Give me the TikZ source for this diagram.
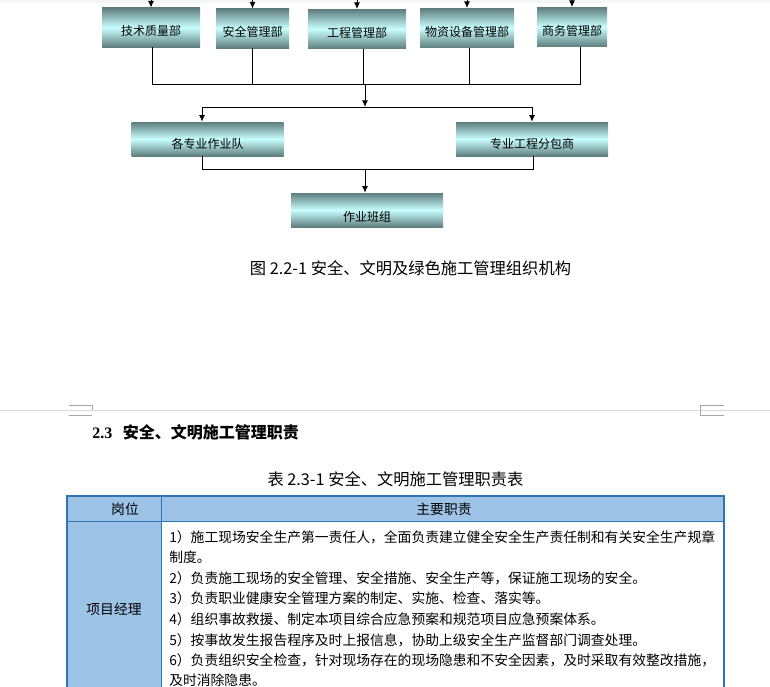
\documentclass[tikz,border=0pt]{standalone}
\usepackage{fontspec}
\setmainfont{Noto Sans CJK SC}
\newfontfamily\numfont{Liberation Serif}
\usetikzlibrary{arrows.meta}
\definecolor{boxdark}{RGB}{96,126,126}
\definecolor{boxlight}{RGB}{200,255,255}
\definecolor{tblue}{RGB}{46,117,182}
\definecolor{hdrblue}{RGB}{157,195,230}
\definecolor{pageline}{RGB}{217,217,217}
\definecolor{markgray}{RGB}{166,166,166}
\begin{document}
\begin{tikzpicture}[
  x=0.75pt, y=-0.75pt,
  box/.style={inner sep=0pt, top color=boxdark, bottom color=boxdark, middle color=boxlight,
    font=\fontsize{9}{9}\selectfont, text height=12pt, text depth=0pt, minimum height=29.5pt},
  unit/.style={box, minimum width=114pt, minimum height=25.5pt, text height=14.5pt},
  link/.style={line width=0.75pt},
  arr/.style={link, -{Latex[length=5pt,width=4.5pt]}},
  note/.style={font=\fontsize{12.2}{12}\selectfont},
  cell/.style={font=\fontsize{10.35}{11}\selectfont, inner sep=0pt}
]
\useasboundingbox (0,0) rectangle (770,686);
\clip (0,0) rectangle (770,686);
\fill[gray!7] (0,0) rectangle (770,3);

% departments
\node[box, minimum width=73.5pt] (tech) at (151,27.5) {技术质量部};
\node[box, minimum width=54.75pt] (safe) at (252.5,28.5) {安全管理部};
\node[box, minimum width=73.5pt] (eng)  at (357,29) {工程管理部};
\node[box, minimum width=70.5pt] (mat)  at (467,28) {物资设备管理部};
\node[box, minimum width=52.5pt] (biz)  at (572,27) {商务管理部};

\foreach \b in {tech,safe,eng,mat,biz}
  \draw[arr] (\b.north) ++(0,-20) -- (\b.north);

% teams
\node[unit] (team) at (207.5,139) {各专业作业队};
\node[unit] (sub)  at (532,139) {专业工程分包商};
\node[unit, text height=17pt] (crew) at (367,210) {作业班组};

\coordinate (busL) at (152,84);
\coordinate (busR) at (580,84);
\coordinate (busM) at (365,84);
\coordinate (barL) at (202,107);
\coordinate (barR) at (532,107);
\coordinate (barM) at (365,107);
\coordinate (lowL) at (202,169);
\coordinate (lowR) at (533,169);
\coordinate (lowM) at (365,169);

\draw[link] (tech.south -| busL) -- (busL) -- (busR) -- (busR |- biz.south);
\draw[link] (safe.south) -- (safe.south |- busL);
\draw[link] ([xshift=5pt]eng.south) -- ([xshift=5pt]eng.south |- busL);
\draw[link] ([xshift=1.5pt]mat.south) -- ([xshift=1.5pt]mat.south |- busL);
\draw[arr] (busM) -- (barM);
\draw[link] (barL) -- (barR);
\draw[arr] (barL) -- (barL |- team.north);
\draw[arr] (barR) -- (barR |- sub.north);
\draw[link] (lowL |- team.south) -- (lowL) -- (lowR) -- (lowR |- sub.south);
\draw[arr] (lowM) -- (lowM |- crew.north);

\node[note] (cap) at (410.5,268) {图 2.2-1 安全、文明及绿色施工管理组织机构};

% page break
\draw[pageline] (0,410) -- (770,410);
\draw[markgray, line width=0.5pt] (69,405) -- (92,405) -- (92,410) (69,415) -- (92,415);
\draw[markgray, line width=0.5pt] (724,405) -- (700,405) -- (700,415) -- (724,415);

\node[anchor=west, inner sep=0pt, font=\fontsize{12}{12}\selectfont\bfseries] (head) at (92,432)
  {{\numfont 2.3}\hspace{8pt}安全、文明施工管理职责};
\node[note] (tcap) at (395.5,479) {表 2.3-1 安全、文明施工管理职责表};

% table
\fill[hdrblue] (67,496) rectangle (724,521);
\fill[hdrblue] (67,521) rectangle (161,700);
\draw[tblue, line width=0.75pt] (67,521) -- (724,521) (161,496) -- (161,700);
\draw[tblue, line width=1.2pt] (67,700) -- (67,496) -- (724,496) -- (724,700);

\node[cell] (hpos) at (125,509) {岗位};
\node[cell] (hduty) at (444,509) {主要职责};
\node[cell] (pm) at (114,609) {项目经理};

\foreach \y/\t [count=\i] in {
  537/{1）施工现场安全生产第一责任人，全面负责建立健全安全生产责任制和有关安全生产规章},
  557.5/{制度。},
  578/{2）负责施工现场的安全管理、安全措施、安全生产等，保证施工现场的安全。},
  598.5/{3）负责职业健康安全管理方案的制定、实施、检查、落实等。},
  619/{4）组织事故救援、制定本项目综合应急预案和规范项目应急预案体系。},
  640/{5）按事故发生报告程序及时上报信息，协助上级安全生产监督部门调查处理。},
  660.5/{6）负责组织安全检查，针对现场存在的现场隐患和不安全因素，及时采取有效整改措施，},
  680/{及时消除隐患。}}
  \node[cell, anchor=west] (ln\i) at (169,\y) {\t};
\end{tikzpicture}
\end{document}
